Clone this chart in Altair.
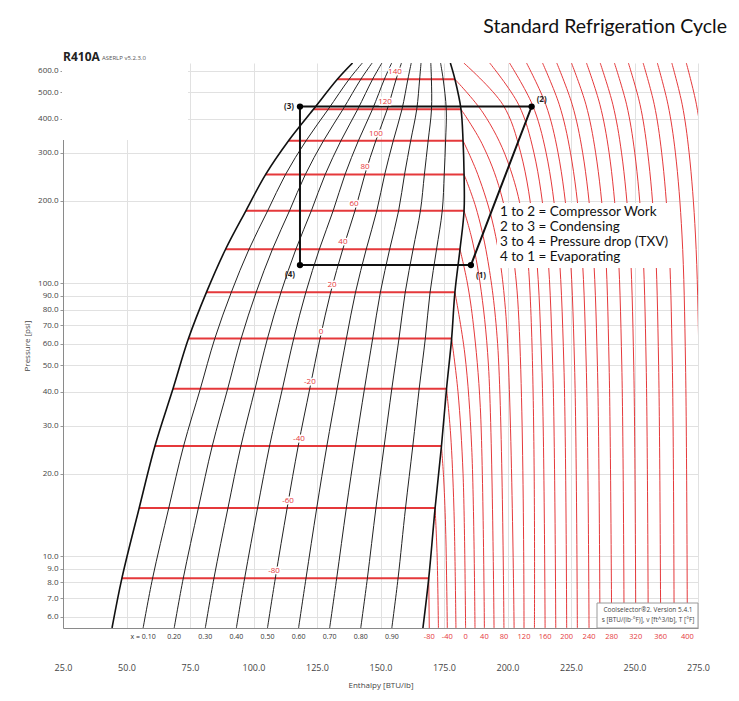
import altair as alt
import pandas as pd

# ---------------- data ----------------
# Saturation dome: pressure (psia) and enthalpy (BTU/lb) of sat. liquid / vapour
DOME_P = [5.45, 8.3, 15.0, 25.3, 41.0, 62.6, 92.6, 133.0, 184.0, 250.0, 332.0, 433.0, 558.0, 640.0]
H_LIQ = [44.3, 48.2, 55.0, 61.2, 68.3, 74.4, 81.5, 89.0, 97.0, 104.8, 113.8, 123.6, 133.0, 139.0]
H_VAP = [166.7, 169.0, 171.5, 174.0, 176.0, 178.0, 179.3, 181.3, 182.9, 182.9, 182.5, 181.7, 179.3, 177.5]

# Saturated isotherms (deg F) crossing the dome (pressures = DOME_P[1:13])
SAT_T = [-80, -60, -40, -20, 0, 20, 40, 60, 80, 100, 120, 140]
SAT_LABEL_H = [108.1, 113.6, 117.9, 122.2, 126.6, 130.9, 135.2, 139.6, 143.9, 148.2, 151.8, 155.7]

# Vapour quality lines
QUALITY = [0.1, 0.2, 0.3, 0.4, 0.5, 0.6, 0.7, 0.8, 0.9]
QUALITY_LABELS = ["x = 0.10", "0.20", "0.30", "0.40", "0.50", "0.60", "0.70", "0.80", "0.90"]

# Superheated isotherms that end on the vapour line
SH_LOW_T = [-80, -60, -40, -20, 0, 20, 40, 60, 80, 100, 120, 140]
SH_LOW_P = [
    [5.45, 8.3],
    [5.45, 10.0, 15.0],
    [5.45, 12.0, 19.0, 25.3],
    [5.45, 15.0, 28.0, 41.0],
    [5.45, 20.0, 40.0, 62.6],
    [5.45, 25.0, 55.0, 92.6],
    [5.45, 35.0, 70.0, 100.0, 133.0],
    [5.45, 50.0, 100.0, 145.0, 184.0],
    [5.45, 60.0, 125.0, 190.0, 250.0],
    [5.45, 80.0, 160.0, 250.0, 332.0],
    [5.45, 100.0, 215.0, 325.0, 433.0],
    [5.45, 140.0, 280.0, 420.0, 558.0],
]
SH_LOW_H = [
    [169.2, 169.0],
    [172.8, 172.3, 171.5],
    [176.3, 175.7, 174.9, 174.0],
    [179.7, 178.9, 177.6, 176.0],
    [183.5, 182.5, 180.5, 178.0],
    [187.2, 185.9, 183.2, 179.3],
    [190.9, 189.3, 186.6, 184.2, 181.3],
    [194.7, 192.5, 189.2, 186.0, 182.9],
    [198.6, 196.1, 192.0, 187.5, 182.9],
    [202.6, 199.2, 194.6, 188.3, 182.5],
    [206.5, 203.5, 197.3, 189.9, 181.7],
    [210.6, 207.4, 200.0, 190.4, 179.3],
]

# Superheated isotherms above the critical temperature
SH_HIGH_T = [160, 180, 200, 220, 240, 260, 280, 300, 320, 340, 360, 380, 400, 420, 440, 460]
SH_HIGH_P = [5.45, 50.0, 150.0, 300.0, 450.0, 640.0]
SH_HIGH_H = [
    [214.8, 213.5, 210.6, 205.2, 198.2, 182.8],
    [219.0, 217.8, 215.2, 210.4, 204.4, 193.0],
    [223.3, 222.2, 219.7, 215.2, 209.8, 200.8],
    [227.5, 226.4, 224.1, 219.9, 215.1, 207.5],
    [232.1, 231.0, 228.8, 224.8, 220.4, 213.8],
    [236.4, 235.4, 233.3, 229.6, 225.5, 219.4],
    [241.0, 240.0, 238.2, 234.7, 230.9, 225.2],
    [245.9, 245.0, 243.2, 240.0, 236.4, 231.1],
    [250.5, 249.7, 248.0, 244.9, 241.5, 236.5],
    [255.4, 254.6, 253.0, 250.1, 246.9, 242.1],
    [260.3, 259.5, 258.0, 255.2, 252.2, 247.6],
    [265.6, 264.9, 263.4, 260.7, 257.8, 253.4],
    [270.8, 270.1, 268.7, 266.1, 263.2, 259.0],
    [276.1, 275.4, 274.0, 271.5, 268.8, 264.7],
    [281.4, 280.7, 279.4, 277.0, 274.4, 270.4],
    [286.7, 286.1, 284.8, 282.4, 279.9, 276.0],
]
BOTTOM_T_LABELS = [-80, -40, 0, 40, 80, 120, 160, 200, 240, 280, 320, 360, 400]

# Refrigeration cycle state points
CYCLE_STATE = ["(1)", "(2)", "(3)", "(4)"]
CYCLE_H = [185.6, 209.5, 118.3, 118.3]
CYCLE_P = [116.4, 443.0, 443.0, 116.4]

LEGEND_LINES = ["1 to 2 = Compressor Work", "2 to 3 = Condensing",
                "3 to 4 = Pressure drop (TXV)", "4 to 1 = Evaporating"]
X_TICKS = [25, 50, 75, 100, 125, 150, 175, 200, 225, 250, 275]
Y_TICKS = [6, 7, 8, 9, 10, 20, 30, 40, 50, 60, 70, 80, 90, 100, 200, 300, 400, 500, 600]

# ---------------- tables ----------------
dome_rows = []
for i, p in enumerate(DOME_P):
    dome_rows.append({"side": "liq", "h": H_LIQ[i], "P": p, "seq": i})
    dome_rows.append({"side": "vap", "h": H_VAP[i], "P": p, "seq": i})
df_dome = pd.DataFrame(dome_rows)

q_rows = []
for q in QUALITY:
    for i, p in enumerate(DOME_P):
        q_rows.append({"q": q, "h": H_LIQ[i] + q * (H_VAP[i] - H_LIQ[i]), "P": p, "seq": i})
df_q = pd.DataFrame(q_rows)
df_qlab = pd.DataFrame({"h": [r["h"] for r in q_rows if r["seq"] == 0], "label": QUALITY_LABELS})

sat_rows, satlab_rows = [], []
for j, t in enumerate(SAT_T):
    p = DOME_P[j + 1]
    sat_rows.append({"T": t, "h": H_LIQ[j + 1], "P": p})
    sat_rows.append({"T": t, "h": H_VAP[j + 1], "P": p})
    satlab_rows.append({"label": str(t), "h": SAT_LABEL_H[j], "P": p})
df_sat = pd.DataFrame(sat_rows)
df_satlab = pd.DataFrame(satlab_rows)

sh_rows, h0 = [], {}
for t, ps, hs in zip(SH_LOW_T, SH_LOW_P, SH_LOW_H):
    h0[t] = hs[0]
    for k, (p, h) in enumerate(zip(ps, hs)):
        sh_rows.append({"T": t, "h": h, "P": p, "seq": k})
for t, hs in zip(SH_HIGH_T, SH_HIGH_H):
    h0[t] = hs[0]
    for k, (p, h) in enumerate(zip(SH_HIGH_P, hs)):
        sh_rows.append({"T": t, "h": h, "P": p, "seq": k})
df_sh = pd.DataFrame(sh_rows)
df_tlab = pd.DataFrame({"h": [h0[t] for t in BOTTOM_T_LABELS], "label": [str(t) for t in BOTTOM_T_LABELS]})

order_idx = [0, 1, 2, 3, 0]
df_cycle = pd.DataFrame({"h": [CYCLE_H[i] for i in order_idx],
                         "P": [CYCLE_P[i] for i in order_idx],
                         "seq": list(range(5))})
df_pts = pd.DataFrame({"h": CYCLE_H, "P": CYCLE_P, "label": CYCLE_STATE})

# ---------------- chart ----------------
W, H = 635, 565
FONT = "Open Sans"
RED = "#e5393b"
xs = alt.Scale(domain=[25, 275], nice=False, zero=False)
ys = alt.Scale(type="log", domain=[5.45, 640], nice=False)

xaxis = alt.Axis(values=X_TICKS, format=".1f", title="Enthalpy [BTU/lb]", labelPadding=35,
                 tickSize=0, grid=True, gridColor="#e1e1e1", domainColor="#8a8a8a",
                 labelColor="#444", labelFontSize=9, labelFont=FONT, labelFlush=False,
                 titleFont=FONT, titleFontSize=8, titleFontWeight="normal", titleColor="#444",
                 titlePadding=9, zindex=0)
yaxis = alt.Axis(values=Y_TICKS, format=".1f", title="Pressure [psi]", labelPadding=2,
                 tickSize=3, tickColor="#999", grid=True, gridColor="#e1e1e1",
                 domainColor="#8a8a8a", labelColor="#444", labelFontSize=8, labelFont=FONT,
                 labelFlush=False, labelOverlap=False, titleFont=FONT, titleFontSize=8,
                 titleFontWeight="normal", titleColor="#444", titlePadding=6, zindex=0)


def X():
    return alt.X("h:Q", scale=xs, axis=xaxis)


def Y():
    return alt.Y("P:Q", scale=ys, axis=yaxis)


one = pd.DataFrame({"a": [0]})

cover = alt.Chart(one).mark_rect(color="white").encode(
    x=alt.value(-1), x2=alt.value(125), y=alt.value(0), y2=alt.value(77))

sat = alt.Chart(df_sat).mark_line(color=RED, strokeWidth=2, clip=True).encode(
    x=X(), y=Y(), detail="T:N")

sh = alt.Chart(df_sh).mark_line(color=RED, strokeWidth=1, interpolate="catmull-rom", clip=True).encode(
    x=X(), y=Y(), detail="T:N", order="seq:Q")

qual = alt.Chart(df_q).mark_line(color="#222", strokeWidth=1, interpolate="catmull-rom", clip=True).encode(
    x=X(), y=Y(), detail="q:N", order="seq:Q")

dome = alt.Chart(df_dome).mark_line(color="#111", strokeWidth=1.6, interpolate="catmull-rom", clip=True).encode(
    x=X(), y=Y(), detail="side:N", order="seq:Q")

cycle = alt.Chart(df_cycle).mark_line(color="#111", strokeWidth=2).encode(
    x=X(), y=Y(), order="seq:Q")
pts = alt.Chart(df_pts).mark_circle(color="#000", size=40, opacity=1).encode(x=X(), y=Y())

satlab_halo = alt.Chart(df_satlab).mark_text(dy=-7, fontSize=8, font=FONT, stroke="white",
                                             strokeWidth=3, color="white").encode(x=X(), y=Y(), text="label:N")
satlab = alt.Chart(df_satlab).mark_text(dy=-7, fontSize=8, font=FONT, color=RED).encode(
    x=X(), y=Y(), text="label:N")

state_offsets = {"(1)": (10, 11), "(2)": (10, -7), "(3)": (-11, 0), "(4)": (-10, 10)}
state_layers = []
for lab, (dx, dy) in state_offsets.items():
    state_layers.append(
        alt.Chart(df_pts[df_pts["label"] == lab]).mark_text(
            dx=dx, dy=dy, fontSize=8, fontWeight="bold", font=FONT, color="#222").encode(
            x=X(), y=Y(), text="label:N"))

qlab = alt.Chart(df_qlab).mark_text(fontSize=7, font=FONT, color="#333").encode(
    x=X(), y=alt.value(H + 9), text="label:N")
tlab = alt.Chart(df_tlab).mark_text(fontSize=7.5, font=FONT, color=RED).encode(
    x=X(), y=alt.value(H + 9), text="label:N")

legend_box = alt.Chart(one).mark_rect(color="white").encode(
    x=alt.value(434), x2=alt.value(612), y=alt.value(140), y2=alt.value(205))
legend_text = alt.Chart(one).mark_text(text=LEGEND_LINES, align="left", baseline="middle",
                                       lineHeight=15, fontSize=13.5, font="Lato", color="#111").encode(
    x=alt.value(437), y=alt.value(149))

info_box = alt.Chart(one).mark_rect(color="white", stroke="#9a9a9a", strokeWidth=1).encode(
    x=alt.value(534), x2=alt.value(635), y=alt.value(540), y2=alt.value(565))
info_text = alt.Chart(one).mark_text(
    text=["Coolselector\u00ae2. Version 5.4.1", "s [BTU/(lb\u00b7\u00b0F)], v [ft^3/lb], T [\u00b0F]"],
    align="center", baseline="middle", lineHeight=10, fontSize=6.5, font=FONT, color="#444").encode(
    x=alt.value(585), y=alt.value(547))

title_r = alt.Chart(one).mark_text(text="R410A", align="left", baseline="middle", fontSize=12,
                                   fontWeight="bold", font=FONT, color="#222").encode(
    x=alt.value(0), y=alt.value(-6))
title_v = alt.Chart(one).mark_text(text="ASERLP v5.2.3.0", align="left", baseline="middle",
                                   fontSize=6, font=FONT, color="#555").encode(
    x=alt.value(39), y=alt.value(-5))
main_title = alt.Chart(one).mark_text(text="Standard Refrigeration Cycle", align="right",
                                      baseline="middle", fontSize=19.5, font="Lato", color="#111").encode(
    x=alt.value(664), y=alt.value(-36))

chart = alt.layer(
    sat, cover, sh, qual, dome, cycle, pts, satlab_halo, satlab, *state_layers,
    qlab, tlab, legend_box, legend_text, info_box, info_text, title_r, title_v, main_title
).properties(
    width=W, height=H,
    autosize=alt.AutoSizeParams(type="none"),
    padding={"left": 55, "top": 55, "right": 33, "bottom": 65},
    background="white",
).configure_view(stroke=None)

chart.save("out.html", embed_options={"renderer": "svg", "actions": False})
